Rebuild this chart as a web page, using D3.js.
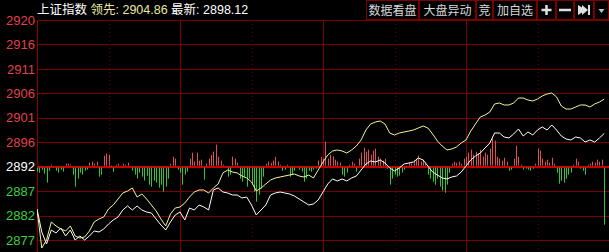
<!DOCTYPE html>
<html>
<head>
<meta charset="utf-8">
<script src="https://cdn.jsdelivr.net/npm/d3@7/dist/d3.min.js"></script>
<style>
body { margin: 0; background: #000; overflow: hidden; }
text { font-family: "Liberation Sans", "Noto Sans CJK SC", sans-serif; }
</style>
</head>
<body>
<svg class="chart"></svg>
<script>
// previous close and the price grid
const prevClose = 2891.6
const tickValues = [2920.4, 2915.6, 2910.8, 2906.0, 2901.2, 2896.4, 2891.6, 2886.8, 2882.0, 2877.2]
const tickLabels = ["2920", "2916", "2911", "2906", "2901", "2896", "2892", "2887", "2882", "2877"]
const timeGrid = [30, 60, 90, 120, 150, 180, 210]   // minutes since 9:30

// 领先 (yellow) and 最新 (white), one value every 2 minutes
const leadValues = [
  2883.29, 2875.63, 2877.20, 2880.74, 2879.95, 2879.36, 2878.97, 2879.95, 2877.99, 2877.59,
  2877.79, 2878.97, 2880.74, 2881.32, 2881.72, 2883.29, 2884.07, 2885.25, 2886.43, 2886.82,
  2887.41, 2885.64, 2886.23, 2885.25, 2884.07, 2882.90, 2881.32, 2879.95, 2882.31, 2883.48,
  2883.68, 2884.47, 2885.64, 2886.63, 2887.02, 2887.02, 2886.43, 2887.41, 2888.20, 2890.36,
  2890.95, 2890.55, 2890.36, 2889.77, 2889.38, 2888.59, 2886.82, 2887.41, 2888.20, 2888.98,
  2889.38, 2889.57, 2889.77, 2889.96, 2890.16, 2889.77, 2889.57, 2889.96, 2889.38, 2890.95,
  2892.52, 2893.89, 2894.68, 2894.87, 2894.68, 2894.28, 2894.87, 2895.66, 2896.84, 2898.80,
  2899.98, 2900.37, 2900.57, 2899.98, 2898.21, 2897.82, 2898.21, 2898.41, 2898.60, 2898.80,
  2899.19, 2899.59, 2899.19, 2898.01, 2896.64, 2895.66, 2894.87, 2895.07, 2895.46, 2896.25,
  2896.84, 2898.60, 2899.98, 2901.35, 2901.75, 2902.34, 2903.91, 2904.10, 2903.71, 2903.71,
  2904.10, 2905.08, 2905.08, 2904.69, 2904.50, 2904.89, 2905.48, 2905.87, 2906.07, 2905.28,
  2903.51, 2902.92, 2902.92, 2903.32, 2903.71, 2903.71, 2903.32, 2903.91, 2904.30, 2904.86
]
const lastValues = [
  2883.29, 2878.77, 2876.42, 2879.16, 2878.58, 2879.56, 2877.99, 2879.16, 2877.20, 2877.99,
  2877.20, 2877.99, 2878.97, 2878.77, 2879.36, 2880.34, 2881.13, 2881.72, 2883.09, 2883.88,
  2883.09, 2883.88, 2883.09, 2882.70, 2882.50, 2881.32, 2880.15, 2879.16, 2880.74, 2882.11,
  2882.70, 2881.13, 2883.48, 2883.09, 2884.07, 2883.68, 2883.09, 2887.02, 2887.41, 2886.63,
  2886.43, 2886.04, 2886.04, 2885.45, 2885.64, 2884.07, 2882.11, 2883.09, 2884.07, 2886.04,
  2886.43, 2886.63, 2886.43, 2886.23, 2885.84, 2885.25, 2884.66, 2884.07, 2884.27, 2885.06,
  2886.63, 2888.20, 2889.18, 2888.79, 2889.18, 2888.79, 2889.38, 2889.77, 2890.95, 2892.12,
  2892.71, 2892.52, 2892.91, 2892.32, 2891.34, 2890.75, 2891.34, 2892.12, 2892.32, 2892.52,
  2893.30, 2892.91, 2891.73, 2890.55, 2889.96, 2889.38, 2889.18, 2889.57, 2889.77, 2890.55,
  2891.73, 2892.91, 2893.70, 2894.28, 2895.27, 2896.25, 2898.21, 2898.21, 2897.43, 2897.23,
  2898.01, 2899.00, 2897.62, 2898.41, 2897.82, 2898.80, 2899.39, 2898.80, 2899.78, 2898.80,
  2897.62, 2897.03, 2896.84, 2897.43, 2897.23, 2896.44, 2896.84, 2896.44, 2897.23, 2898.12
]

// red / green strength bars, one per minute
const strength = [
  -5, -6, -3, -7, -16, -4, 2, 1, -4, -6, -3, -5, 3, 3, 2, -8, -20, -12, -6, -8,
  -4, -3, 4, 5, 3, 5, -10, -8, 11, 13, 12, 0, -5, 2, 3, 1, 3, 2, 4, 1,
  -4, -8, -12, -6, -10, -14, -9, -18, -20, -14, -16, -21, -18, -25, -20, -12, 3, 10, 8, -3,
  -6, -18, -8, -5, 8, 14, 5, 14, 6, 7, -13, 3, 8, 12, 15, 22, 10, 6, 2, 1,
  -10, -8, 10, 8, 4, -12, -15, -10, -20, -12, -18, -25, -35, -28, -22, -10, 3, 5, 4, 6,
  10, 5, 2, -4, -3, 2, -10, -8, -4, 1, -3, -5, -15, -12, -4, -5, -3, -2, 6, 10,
  8, 25, 8, 12, 10, 7, 5, 4, -8, -10, -6, 2, 5, 3, -5, 8, 14, 19, 15, 17,
  12, 16, 18, 10, 8, 6, 8, -2, -18, -12, -8, -10, -9, -6, -3, 0, 4, 3, 6, 8,
  11, 5, 7, 4, -8, -12, -15, -18, -12, -20, -24, -26, -18, -6, 3, 5, 4, 5, 3, 8,
  10, 14, 17, 12, 15, 13, 17, 10, 14, 12, 18, 28, 26, 10, 8, 6, 9, 5, -4, -3,
  8, 21, 10, 2, -3, -2, -3, -4, -2, 3, 18, 16, 8, 5, 7, 4, 9, 3, -6, -17,
  -14, -16, -12, -8, -6, 2, 8, 5, -2, -4, -8, 2, 3, 5, 4, 7, 5, 7, -58
]

const buttons = ["数据看盘", "大盘异动", "竞", "加自选", "+", "−", "next", "more"]
const buttonWidths = [53, 57, 17, 44, 19, 18, 20, 15]

const width = 609, height = 252
const plot = {left: 37, right: 609, top: 20, bottom: 252}

const svg = d3.select(".chart")
    .attr("width", width)
    .attr("height", height)
    .style("background", "#000")

const xScale = d3.scaleLinear()
    .domain([0, 240])
    .range([plot.left, plot.right])

const yScale = d3.scaleLinear()
    .domain([2877.2, 2920.4])
    .range([240, 20])

const mid = yScale(prevClose)
const barScale = d3.scaleLinear()
    .domain([-60, 60])
    .range([mid + 60, mid - 60])

svg.append("clipPath").attr("id", "plotClip")
    .append("rect")
    .attr("x", plot.left).attr("y", plot.top)
    .attr("width", plot.right - plot.left).attr("height", plot.bottom - plot.top)

// horizontal grid + price labels
const yAxis = svg.append("g")
    .attr("transform", `translate(${plot.left},0)`)
    .call(d3.axisLeft(yScale)
        .tickValues(tickValues)
        .tickFormat((d, i) => tickLabels[i])
        .tickSize(-(plot.right - plot.left))
        .tickPadding(2))
yAxis.select(".domain").remove()
yAxis.selectAll("line")
    .attr("stroke", d => d === prevClose ? "#c80000" : "#7a0000")
    .attr("stroke-width", d => d === prevClose ? 2.5 : 1)
    .attr("shape-rendering", "crispEdges")
yAxis.selectAll("text")
    .attr("font-size", 13)
    .attr("fill", d => d > prevClose ? "#e0404a" : (d === prevClose ? "#ffffff" : "#3cd03c"))

// vertical grid: hours solid, half hours dotted
svg.append("g").selectAll("line")
    .data(timeGrid)
    .join("line")
    .attr("x1", d => Math.round(xScale(d)) + 0.5)
    .attr("x2", d => Math.round(xScale(d)) + 0.5)
    .attr("y1", plot.top)
    .attr("y2", plot.bottom)
    .attr("stroke", d => d % 60 === 0 ? "#7a0000" : "#6a0000")
    .attr("stroke-dasharray", d => d % 60 === 0 ? null : "1,3")

svg.append("line")
    .attr("x1", plot.left + 0.5).attr("x2", plot.left + 0.5)
    .attr("y1", plot.top).attr("y2", plot.bottom)
    .attr("stroke", "#8a0000")

// strength bars
const plotArea = svg.append("g").attr("clip-path", "url(#plotClip)")
plotArea.selectAll(".bar")
    .data(strength)
    .join("line")
    .attr("class", "bar")
    .attr("x1", (d, i) => Math.round(xScale(i)) + 0.5)
    .attr("x2", (d, i) => Math.round(xScale(i)) + 0.5)
    .attr("y1", d => d >= 0 ? mid - 1 : mid + 1)
    .attr("y2", d => barScale(d))
    .attr("stroke", d => d >= 0 ? "#e05050" : "#30c830")
    .attr("stroke-width", 1)

// price lines
const line = d3.line()
    .x((d, i) => xScale(i * 2))
    .y(d => yScale(d))

plotArea.append("path")
    .datum(lastValues)
    .attr("d", line)
    .attr("fill", "none")
    .attr("stroke", "#ffffff")
    .attr("stroke-width", 1)

plotArea.append("path")
    .datum(leadValues)
    .attr("d", line)
    .attr("fill", "none")
    .attr("stroke", "#f4f49c")
    .attr("stroke-width", 1)

// header
const title = svg.append("text")
    .attr("x", 37)
    .attr("y", 14)
    .attr("font-size", 12.5)
title.append("tspan").attr("fill", "#ffffff").text("上证指数 ")
title.append("tspan").attr("fill", "#e8e8a0")
    .text("领先: " + leadValues[leadValues.length - 1].toFixed(2) + " ")
title.append("tspan").attr("fill", "#ffffff")
    .text("最新: " + lastValues[lastValues.length - 1].toFixed(2))

const btnLeft = width - d3.sum(buttonWidths)
const btn = svg.append("g")
let bx = btnLeft
buttons.forEach((b, i) => {
    const w = buttonWidths[i]
    btn.append("rect")
        .attr("x", bx + 0.5).attr("y", 0.5)
        .attr("width", w - 1).attr("height", 19)
        .attr("fill", "#000")
        .attr("stroke", "#7a0000")
    const cx = bx + w / 2
    if (b === "+") {
        btn.append("path").attr("d", `M${cx - 5},10 H${cx + 5} M${cx},5 V15`)
            .attr("stroke", "#e0e0e0").attr("stroke-width", 2.5)
    } else if (b === "−") {
        btn.append("path").attr("d", `M${cx - 6},10 H${cx + 6}`)
            .attr("stroke", "#e0e0e0").attr("stroke-width", 2.5)
    } else if (b === "next") {
        btn.append("path").attr("d", `M${cx - 6},5 L${cx + 2},10 L${cx - 6},15 Z M${cx - 2},5 L${cx + 4},10 L${cx - 2},15 Z`)
            .attr("fill", "#e0e0e0")
        btn.append("rect").attr("x", cx + 4).attr("y", 5).attr("width", 2).attr("height", 10).attr("fill", "#e0e0e0")
    } else if (b === "more") {
        btn.append("path").attr("d", `M${cx - 3},9 L${cx + 3},9 L${cx},13 Z`)
            .attr("fill", "#c0c0c0")
    } else {
        btn.append("text")
            .attr("x", cx).attr("y", 14.5)
            .attr("text-anchor", "middle")
            .attr("font-size", 12)
            .attr("fill", "#d8d8d8")
            .text(b)
    }
    bx += w
})
</script>
</body>
</html>
